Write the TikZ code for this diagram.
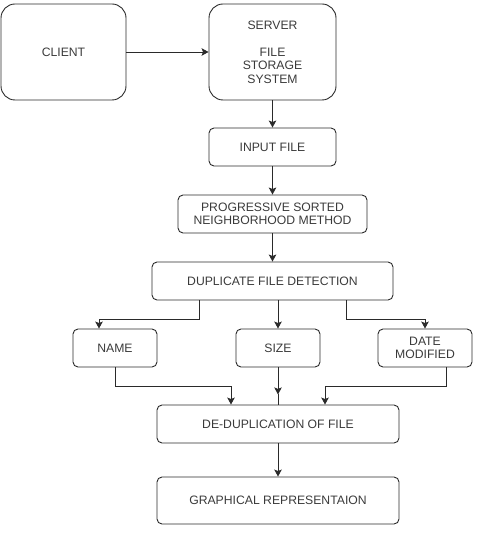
\documentclass[tikz,border=0pt]{standalone}
\usepackage{fontspec}
\setmainfont{Liberation Sans}
\usetikzlibrary{arrows.meta}
\definecolor{txt}{HTML}{3A3A3A}
\definecolor{ln}{HTML}{2A2A2A}
\begin{document}
\begin{tikzpicture}[x=1pt,y=-1pt,
  box/.style={draw=ln,line width=0.9pt,rounded corners=5pt,align=center,text=txt,
    font=\fontsize{12.2}{13.5}\selectfont,inner sep=0pt},
  bigbox/.style={box,rounded corners=14pt},
  arr/.style={draw=ln,line width=0.9pt,-{Stealth[length=7pt,width=7.5pt,inset=1.5pt]}},
  ln/.style={draw=ln,line width=0.9pt}]
\useasboundingbox (0,0) rectangle (476,534);
\node[bigbox,minimum width=125pt,minimum height=96pt] (client) at (63.5,52) {CLIENT};
\node[bigbox,minimum width=127pt,minimum height=96pt] (server) at (272.5,52) {SERVER\\[13.5pt]FILE\\STORAGE\\SYSTEM};
\node[box,minimum width=127pt,minimum height=38pt] (input) at (272.5,147) {INPUT FILE};
\node[box,minimum width=189pt,minimum height=38pt] (psnm) at (272.5,214) {PROGRESSIVE SORTED\\NEIGHBORHOOD METHOD};
\node[box,minimum width=241pt,minimum height=38pt] (dfd) at (272.5,281) {DUPLICATE FILE DETECTION};
\node[box,minimum width=84pt,minimum height=38pt] (name) at (115,348) {NAME};
\node[box,minimum width=84pt,minimum height=38pt] (size) at (278,348) {SIZE};
\node[box,minimum width=94pt,minimum height=38pt] (date) at (425,348) {DATE\\MODIFIED};
\node[box,minimum width=242pt,minimum height=38pt] (dedup) at (278,424) {DE-DUPLICATION OF FILE};
\node[box,minimum width=242pt,minimum height=47pt] (graph) at (278,500.5) {GRAPHICAL REPRESENTAION};
\draw[arr] (client.east) -- (server.west);
\draw[arr] (server.south) -- (input.north);
\draw[arr] (input.south) -- (psnm.north);
\draw[arr] (psnm.south) -- (dfd.north);
\draw[arr] ([xshift=-73.5pt]dfd.south) -- ++(0,19) -| ([xshift=-16pt]name.north);
\draw[arr] ([xshift=5.5pt]dfd.south) -- (size.north);
\draw[arr] ([xshift=73.5pt]dfd.south) -- ++(0,19) -| (date.north);
\draw[arr] (name.south) -- ++(0,19) -| ([xshift=-47pt]dedup.north);
\draw[arr] (size.south) -- ++(0,27) coordinate (sz);
\draw[ln] (sz) -- (dedup.north);
\draw[arr] ([xshift=21pt]date.south) -- ++(0,19) -| ([xshift=47pt]dedup.north);
\draw[arr] (dedup.south) -- (graph.north);
\end{tikzpicture}
\end{document}
